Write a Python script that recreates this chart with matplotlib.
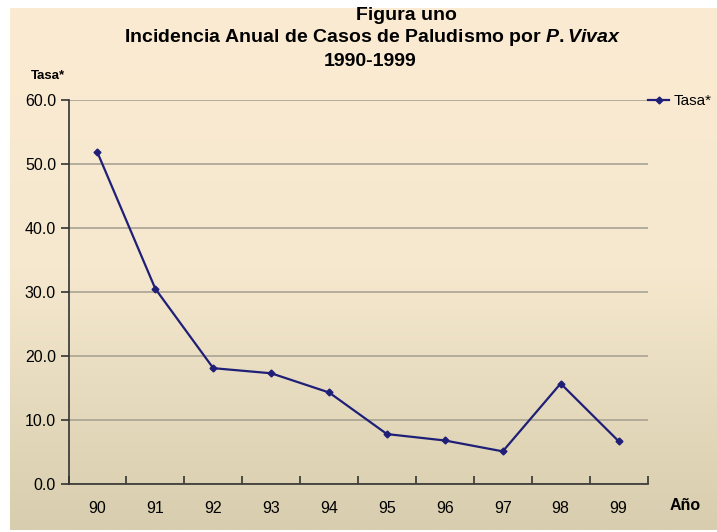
import matplotlib.pyplot as plt
import numpy as np
from matplotlib.colors import LinearSegmentedColormap

# Data
years = ["90", "91", "92", "93", "94", "95", "96", "97", "98", "99"]
tasa = [51.8, 30.5, 18.1, 17.3, 14.3, 7.8, 6.8, 5.1, 15.7, 6.7]
y_ticks = [0, 10, 20, 30, 40, 50, 60]

plt.rcParams["font.family"] = "Liberation Sans"
plt.rcParams["mathtext.fontset"] = "custom"
plt.rcParams["mathtext.rm"] = "Liberation Sans:bold"
plt.rcParams["mathtext.bf"] = "Liberation Sans:bold"
plt.rcParams["mathtext.it"] = "Liberation Sans:bold:italic"

fig = plt.figure(figsize=(7.17, 5.32), dpi=100)
fig.patch.set_facecolor("white")

# Gradient slide background (cream top, tan bottom)
bg = fig.add_axes([10 / 717, 2 / 532, 707 / 717, 522 / 532])
bg.set_axis_off()
cmap = LinearSegmentedColormap.from_list("slide", ["#FBEBD2", "#F5E8CE", "#D8CDAE"])
grad = np.linspace(0, 1, 256).reshape(-1, 1)
bg.imshow(grad, aspect="auto", cmap=cmap, extent=[0, 1, 0, 1], origin="upper")
bg.set_xlim(0, 1)
bg.set_ylim(0, 1)

ax = fig.add_axes([68.5 / 717, 1 - 484 / 532, 579 / 717, 384 / 532])
ax.patch.set_alpha(0)

x = np.arange(len(years))
line, = ax.plot(x, tasa, color="#1F1F78", lw=1.6, marker="D", ms=3.5, label="Tasa*")

ax.set_xlim(-0.5, len(years) - 0.5)
ax.set_ylim(0, 60)
ax.set_yticks(y_ticks)
ax.set_yticklabels([f"{v:.1f}" for v in y_ticks], fontsize=11.5)
ax.set_xticks(x)
ax.set_xticklabels(years, fontsize=11.5)
ax.set_xticks(np.arange(-0.5, len(years)), minor=True)
ax.tick_params(axis="x", which="major", length=0, pad=12)
ax.tick_params(axis="x", which="minor", length=6, width=1.2, direction="in", color="#333333")
ax.tick_params(axis="y", length=6, width=1.2, color="#333333", pad=3)
ax.yaxis.grid(True, color="#A9A393", lw=1.2)
ax.set_axisbelow(True)

for side in ["top", "right"]:
    ax.spines[side].set_visible(False)
for side in ["left", "bottom"]:
    ax.spines[side].set_color("#333333")
    ax.spines[side].set_linewidth(1.2)

fig.text(406 / 717, 1 - 15 / 532, "Figura uno", ha="center", va="center",
         fontsize=14, fontweight="bold")
fig.text(0.52, 1 - 38 / 532, "Incidencia Anual de Casos de Paludismo por $\\it{P.Vivax}$",
         ha="center", va="center", fontsize=14, fontweight="bold")
fig.text(0.516, 1 - 61 / 532, "1990-1999", ha="center", va="center",
         fontsize=14, fontweight="bold")
fig.text(48 / 717, 1 - 76 / 532, "Tasa*", ha="center", va="center",
         fontsize=9.5, fontweight="bold")
fig.text(685 / 717, 1 - 505 / 532, "Año", ha="center", va="center",
         fontsize=11.5, fontweight="bold")

fig.legend(handles=[line], loc="center left", bbox_to_anchor=(648 / 717, 1 - 101 / 532),
           frameon=False, prop={"size": 11},
           handlelength=1.4, handletextpad=0.3, borderpad=0, borderaxespad=0)

fig.savefig("out.png", dpi=100)
